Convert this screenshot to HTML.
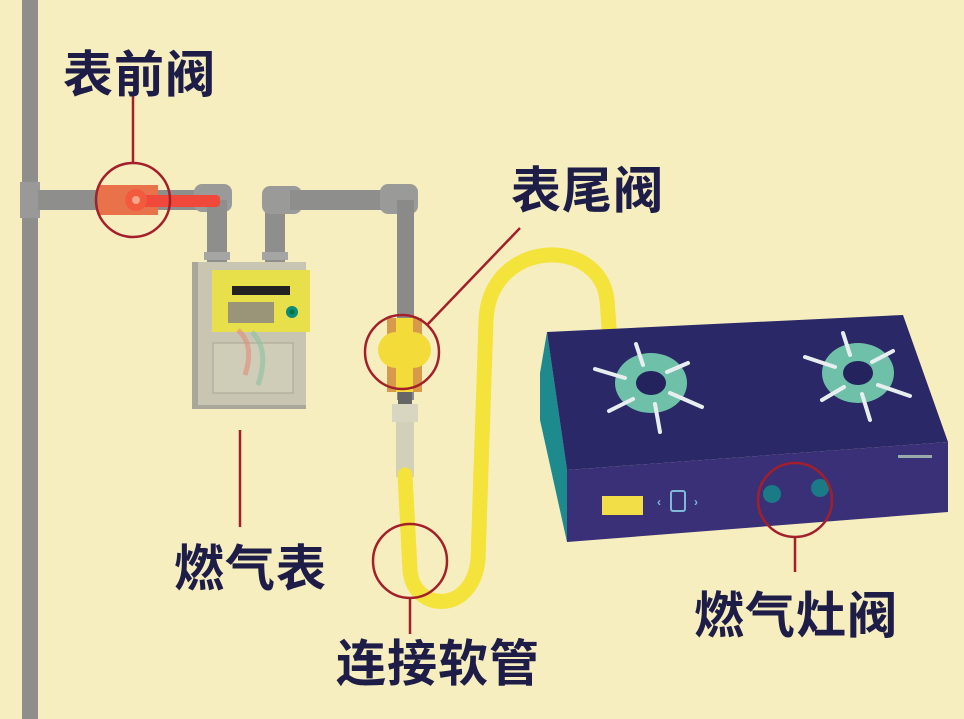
<!DOCTYPE html>
<html><head><meta charset="utf-8"><style>
html,body{margin:0;padding:0;background:#f7eec0;}
svg{display:block}
text{font-family:"Liberation Sans","Noto Sans CJK SC",sans-serif;font-weight:bold;fill:#1d1d48;font-size:50px;letter-spacing:1px}
</style></head><body>
<svg width="964" height="719" viewBox="0 0 964 719">
<rect width="964" height="719" fill="#f7eec0"/>
<rect x="22" y="0" width="16" height="719" fill="#8e8e8c"/>
<rect x="20" y="182" width="20" height="36" fill="#999"/>
<rect x="38" y="190" width="180" height="20" fill="#8e8e8c"/>
<rect x="194" y="184" width="38" height="28" rx="8" fill="#9a9a98"/>
<rect x="207" y="200" width="20" height="62" fill="#8e8e8c"/>
<rect x="204" y="252" width="26" height="8" fill="#a5a5a3"/>
<rect x="98" y="185" width="60" height="30" fill="#e8734a"/>
<rect x="140" y="195" width="80" height="12" rx="4" fill="#f0483a"/>
<circle cx="136" cy="200" r="11" fill="#f25a3e"/>
<circle cx="136" cy="200" r="4" fill="#f9a58a"/>
<circle cx="133" cy="200" r="37" fill="none" stroke="#a31f2a" stroke-width="2.5"/>
<line x1="133" y1="96" x2="133" y2="163" stroke="#a31f2a" stroke-width="2.5"/>
<rect x="265" y="200" width="20" height="62" fill="#8e8e8c"/>
<rect x="262" y="186" width="40" height="28" rx="8" fill="#9a9a98"/>
<rect x="290" y="190" width="110" height="20" fill="#8e8e8c"/>
<rect x="380" y="184" width="38" height="30" rx="8" fill="#9a9a98"/>
<rect x="397" y="200" width="17" height="200" fill="#8a8a88"/>
<rect x="262" y="252" width="26" height="8" fill="#a5a5a3"/>
<rect x="192" y="262" width="114" height="147" fill="#a8a79a"/>
<rect x="198" y="262" width="108" height="143" fill="#c8c6b2"/>
<rect x="212" y="270" width="98" height="62" fill="#e8e04a"/>
<rect x="232" y="286" width="58" height="9" fill="#222"/>
<rect x="228" y="302" width="46" height="21" fill="#9a9478"/>
<circle cx="292" cy="312" r="6" fill="#0e8a7e"/>
<circle cx="292" cy="312" r="2.5" fill="#073"/>
<rect x="213" y="343" width="80" height="50" fill="#cfcdb8" stroke="#aaa894" stroke-width="1"/>
<path d="M238 330 Q255 345 245 375" stroke="#e28a7a" stroke-width="5" fill="none" opacity="0.6"/>
<path d="M252 332 Q270 350 258 385" stroke="#8cc0a0" stroke-width="5" fill="none" opacity="0.6"/>
<line x1="240" y1="430" x2="240" y2="527" stroke="#a31f2a" stroke-width="2.5"/>
<rect x="387" y="318" width="35" height="74" fill="#d69a4a"/>
<path d="M396 318 h17 v14 a17 17 0 0 1 0 36 v24 h-17 v-24 a17 17 0 0 1 0 -36z" fill="#f3dc3a"/>
<circle cx="402" cy="352" r="37" fill="none" stroke="#a31f2a" stroke-width="2.5"/>
<line x1="520" y1="228" x2="427" y2="325" stroke="#a31f2a" stroke-width="2.5"/>
<rect x="398" y="392" width="14" height="12" fill="#666"/>
<rect x="392" y="404" width="26" height="18" fill="#d8d6c0"/>
<rect x="396" y="422" width="18" height="55" fill="#d2d0b8"/>
<path d="M405 475 L410 570 C413 612 472 615 478 560 L486 320 C490 238 600 236 607 300 L610 340" stroke="#f3e33a" stroke-width="15" fill="none" stroke-linecap="round"/>
<circle cx="410" cy="561" r="37" fill="none" stroke="#a31f2a" stroke-width="2.5"/>
<line x1="410" y1="598" x2="410" y2="634" stroke="#a31f2a" stroke-width="2.5"/>
<polygon points="547,332 567,470 567,542 540,420 540,373" fill="#1d8a8e"/>
<polygon points="547,332 903,315 948,442 567,470" fill="#2a2867"/>
<polygon points="567,470 948,442 948,512 567,542" fill="#3a3078"/>
<ellipse cx="651" cy="383" rx="36" ry="30" fill="#6fc0a8"/>
<ellipse cx="651" cy="383" rx="15" ry="12" fill="#24235e"/>
<g stroke="#e8eef0" stroke-width="4" stroke-linecap="round">
<line x1="636" y1="344" x2="643" y2="365"/><line x1="595" y1="369" x2="625" y2="378"/>
<line x1="609" y1="411" x2="633" y2="399"/><line x1="655" y1="404" x2="660" y2="432"/>
<line x1="670" y1="393" x2="702" y2="407"/><line x1="667" y1="372" x2="688" y2="363"/>
</g>
<ellipse cx="858" cy="373" rx="36" ry="30" fill="#6fc0a8"/>
<ellipse cx="858" cy="373" rx="15" ry="12" fill="#24235e"/>
<g stroke="#e8eef0" stroke-width="4" stroke-linecap="round">
<line x1="843" y1="333" x2="850" y2="355"/><line x1="805" y1="357" x2="835" y2="367"/>
<line x1="822" y1="400" x2="844" y2="387"/><line x1="862" y1="394" x2="870" y2="420"/>
<line x1="878" y1="385" x2="910" y2="396"/><line x1="872" y1="362" x2="893" y2="351"/>
</g>
<rect x="602" y="496" width="41" height="19" fill="#f2df48"/>
<rect x="671" y="491" width="14" height="20" rx="2" fill="none" stroke="#7fb8d8" stroke-width="2"/>
<text x="657" y="506" style="font-size:12px;fill:#7fb8d8">‹</text>
<text x="694" y="506" style="font-size:12px;fill:#7fb8d8">›</text>
<rect x="898" y="455" width="34" height="3" fill="#9aa"/>
<circle cx="772" cy="494" r="9" fill="#1a7a86"/>
<circle cx="820" cy="488" r="9" fill="#1a7a86"/>
<circle cx="795" cy="500" r="37" fill="none" stroke="#a31f2a" stroke-width="2.5"/>
<line x1="795" y1="537" x2="795" y2="572" stroke="#a31f2a" stroke-width="2.5"/>
<text x="63" y="92">表前阀</text>
<text x="511" y="208">表尾阀</text>
<text x="174" y="586">燃气表</text>
<text x="336" y="681">连接软管</text>
<text x="694" y="633">燃气灶阀</text>
</svg>
</body></html>
